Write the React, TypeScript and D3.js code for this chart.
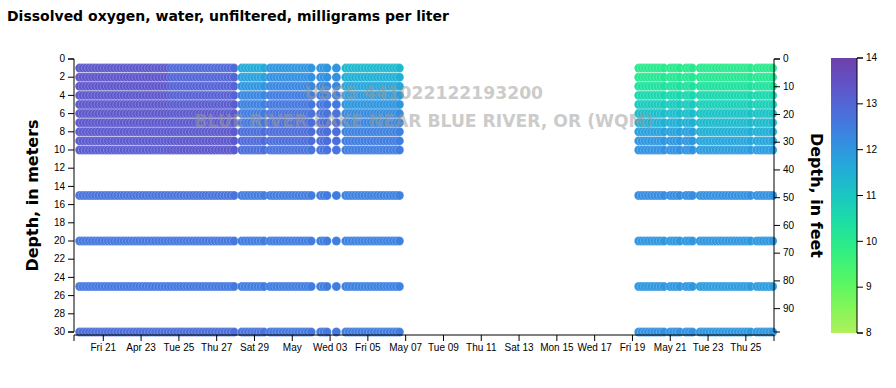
import React from 'react';
import * as d3 from 'd3';

// sampling runs of the profiler (local time), one profile every few hours
const runs: [string, string][] = [
    ['2023-04-19T18:00', '2023-04-28T00:00'],
    ['2023-04-28T08:00', '2023-04-29T12:00'],
    ['2023-04-29T20:00', '2023-05-02T00:00'],
    ['2023-05-02T12:00', '2023-05-02T20:00'],
    ['2023-05-03T08:00', '2023-05-03T08:00'],
    ['2023-05-03T20:00', '2023-05-06T18:00'],
    ['2023-05-19T08:00', '2023-05-20T16:00'],
    ['2023-05-21T00:00', '2023-05-21T14:00'],
    ['2023-05-21T20:00', '2023-05-22T06:00'],
    ['2023-05-22T14:00', '2023-05-25T08:00'],
    ['2023-05-25T14:00', '2023-05-26T12:00'],
];
const profileStepHours = 4;

const depths = [1, 2, 3, 4, 5, 6, 7, 8, 9, 10, 15, 20, 25, 30];

// period start -> dissolved oxygen (mg/L) per depth
const periodStarts = ['2023-04-19T00:00', '2023-04-24T12:00', '2023-04-28T04:00', '2023-04-29T16:00',
    '2023-05-03T16:00', '2023-05-19T00:00', '2023-05-22T10:00'];
const periodValues = [
    [13.3, 13.35, 13.35, 13.3, 13.3, 13.3, 13.3, 13.25, 13.25, 13.2, 12.7, 12.6, 12.6, 12.8],
    [12.9, 13.0, 13.05, 13.1, 13.2, 13.25, 13.25, 13.25, 13.3, 13.3, 12.7, 12.6, 12.6, 12.8],
    [11.6, 11.8, 12.0, 12.3, 12.4, 12.5, 12.6, 12.8, 12.9, 12.8, 12.5, 12.5, 12.5, 12.7],
    [12.0, 12.1, 12.3, 12.5, 12.6, 12.7, 12.8, 12.8, 12.8, 12.7, 12.5, 12.5, 12.5, 12.6],
    [11.3, 11.5, 11.7, 11.9, 12.0, 12.2, 12.3, 12.4, 12.5, 12.5, 12.4, 12.4, 12.4, 12.5],
    [10.0, 10.1, 10.3, 10.6, 10.9, 11.2, 11.5, 11.8, 12.0, 12.1, 12.2, 12.0, 12.0, 12.1],
    [10.0, 10.1, 10.3, 10.6, 10.8, 11.1, 11.3, 11.5, 11.7, 11.9, 12.1, 12.0, 11.9, 12.0],
];

const depthTicks = d3.range(0, 31, 2);
const feetTicks = [0, 10, 20, 30, 40, 50, 60, 70, 80, 90];
const colorTicks = [8, 9, 10, 11, 12, 13, 14];

const title = 'Dissolved oxygen, water, unfiltered, milligrams per liter';
const siteId = 'USGS 441022122193200';
const siteName = 'BLUE RIVER LAKE NEAR BLUE RIVER, OR (WQM)';

const spec = {
    width: 896, height: 388,
    left: 74, right: 774, top: 59, bottom: 332, xAxisY: 335,
    barX: 831, barW: 26,
};

const axisFont = '"Liberation Sans", Arial, sans-serif';
const boldFont = '"DejaVu Sans", Verdana, sans-serif';

const App = () => {
    let xScale = d3.scaleTime()
        .domain([new Date(2023, 3, 19, 10, 48), new Date(2023, 4, 26, 11, 45)])
        .range([spec.left, spec.right]);
    let yScale = d3.scaleLinear().domain([0, 30]).range([spec.top, spec.bottom]);
    let feetScale = d3.scaleLinear().domain([0, 30 / 0.3048]).range([spec.top, spec.bottom]);
    let cScale = d3.scaleLinear().domain([8, 14]).range([spec.bottom + 1, spec.top - 1]);
    let color = (v: number) => d3.interpolateCool((14 - v) / 6);

    let xTicks = xScale.ticks(d3.timeDay.every(2)!);
    let xFormat = xScale.tickFormat();

    let starts = periodStarts.map(s => new Date(s).getTime());
    let points: {t: Date, depth: number, v: number}[] = [];
    runs.forEach(([a, b]) => {
        let end = new Date(b).getTime();
        for (let t = new Date(a).getTime(); t <= end; t += profileStepHours * 3600e3) {
            let p = d3.bisectRight(starts, t) - 1;
            depths.forEach((dep, i) => points.push({t: new Date(t), depth: dep, v: periodValues[p][i]}));
        }
    });

    let gradStops = d3.range(0, 1.0001, 0.1);
    let midX = (spec.left + spec.right) / 2;

    return (
        <svg width={spec.width} height={spec.height} style={{position: 'absolute', left: 0, top: 0}}>
            <defs>
                <linearGradient id="cbar" x1="0" y1="0" x2="0" y2="1">
                    {gradStops.map((s, i) => <stop key={i} offset={s} stopColor={d3.interpolateCool(s)}/>)}
                </linearGradient>
            </defs>
            <text x="7" y="21" fontFamily={boldFont} fontWeight="bold" fontSize="14">{title}</text>

            <g>
                {points.map((p, i) =>
                    <circle key={i} cx={xScale(p.t)} cy={yScale(p.depth)} r="4.5"
                            fill={color(p.v)} stroke="#fff" strokeWidth="0.5" strokeOpacity="0.45"/>)}
            </g>

            <g fontFamily={boldFont} fontWeight="bold" fontSize="17.2" fill="#999" opacity="0.5" textAnchor="middle">
                <text x={midX} y="99">{siteId}</text>
                <text x={midX} y="127">{siteName}</text>
            </g>

            {/* left axis, meters */}
            <g fontFamily={axisFont} fontSize="10" fill="#000">
                <path d={`M${spec.left - 6},${spec.top}H${spec.left}V${spec.bottom}H${spec.left - 6}`} fill="none" stroke="#000"/>
                {depthTicks.map(t => <g key={t} transform={`translate(${spec.left},${yScale(t)})`}>
                    <line x1="-6" x2="0" stroke="#000"/>
                    <text x="-9" dy="0.32em" textAnchor="end">{t}</text>
                </g>)}
            </g>

            {/* right axis, feet */}
            <g fontFamily={axisFont} fontSize="10" fill="#000">
                <path d={`M${spec.right + 6},${spec.top}H${spec.right}V${spec.bottom}H${spec.right + 6}`} fill="none" stroke="#000"/>
                {feetTicks.map(t => <g key={t} transform={`translate(${spec.right},${feetScale(t)})`}>
                    <line x1="0" x2="6" stroke="#000"/>
                    <text x="9" dy="0.32em">{t}</text>
                </g>)}
            </g>

            {/* x axis */}
            <g fontFamily={axisFont} fontSize="10" fill="#000">
                <path d={`M${spec.left},${spec.xAxisY + 6}V${spec.xAxisY}H${spec.right}V${spec.xAxisY + 6}`} fill="none" stroke="#000"/>
                {xTicks.map((t, i) => <g key={i} transform={`translate(${xScale(t)},${spec.xAxisY})`}>
                    <line y1="0" y2="6" stroke="#000"/>
                    <text y="9" dy="0.71em" textAnchor="middle">{xFormat(t)}</text>
                </g>)}
            </g>

            <text transform={`translate(38,${(spec.top + spec.bottom) / 2}) rotate(-90)`} textAnchor="middle"
                  fontFamily={boldFont} fontWeight="bold" fontSize="16">Depth, in meters</text>
            <text transform={`translate(811,${(spec.top + spec.bottom) / 2}) rotate(90)`} textAnchor="middle"
                  fontFamily={boldFont} fontWeight="bold" fontSize="16">Depth, in feet</text>

            {/* colour bar */}
            <rect x={spec.barX} y={spec.top - 1} width={spec.barW} height={spec.bottom - spec.top + 2} fill="url(#cbar)"/>
            <g fontFamily={axisFont} fontSize="10" fill="#000">
                <path d={`M${spec.barX + spec.barW + 6},${cScale(14)}H${spec.barX + spec.barW}V${cScale(8)}H${spec.barX + spec.barW + 6}`}
                      fill="none" stroke="#000"/>
                {colorTicks.map(t => <g key={t} transform={`translate(${spec.barX + spec.barW},${cScale(t)})`}>
                    <line x1="0" x2="6" stroke="#000"/>
                    <text x="9" dy="0.32em">{t}</text>
                </g>)}
            </g>
        </svg>
    );
};

export default App;
